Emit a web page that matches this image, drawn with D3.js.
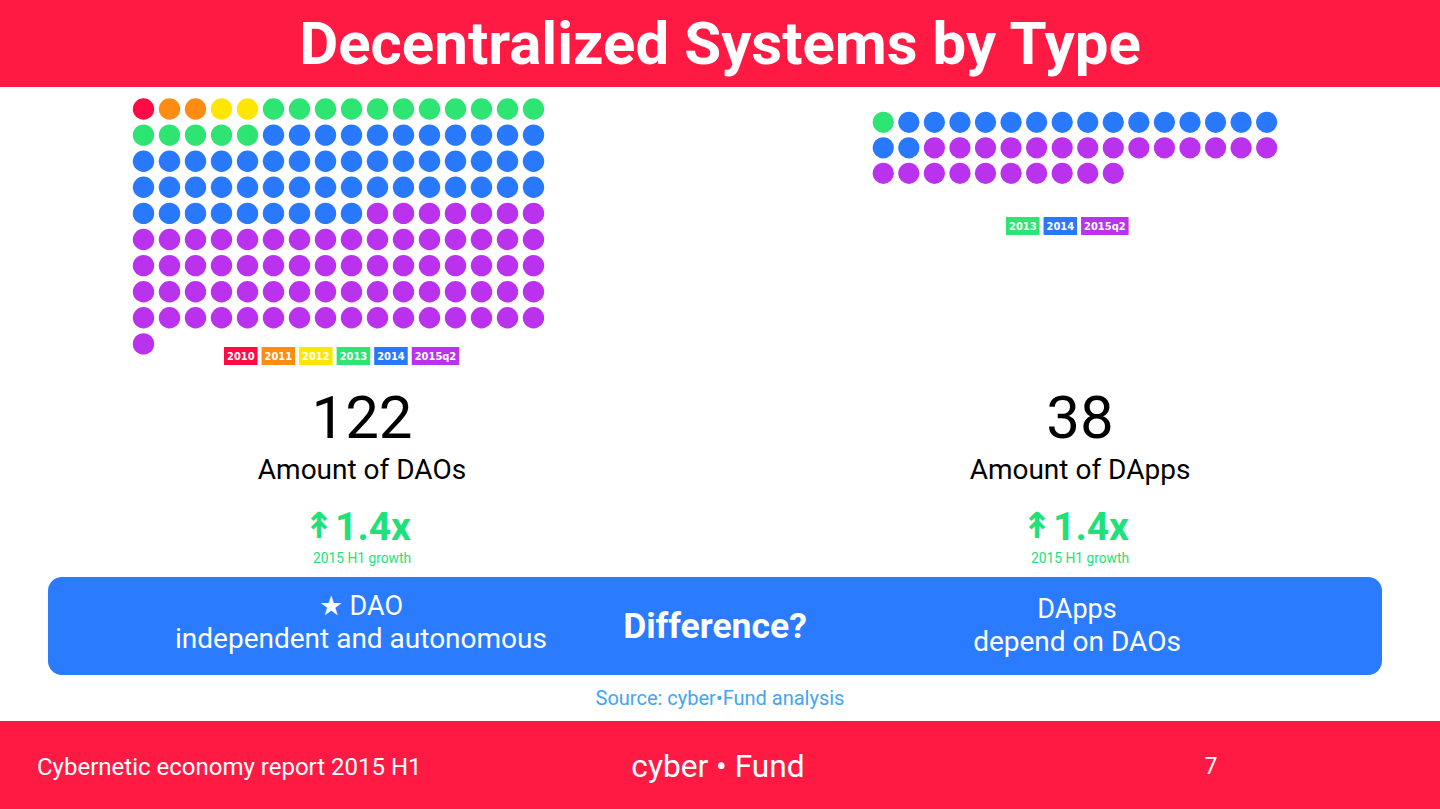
<!DOCTYPE html>
<html><head><meta charset="utf-8">
<script src="https://cdn.jsdelivr.net/npm/d3@7/dist/d3.min.js"></script>
<style>
html,body{margin:0;padding:0;background:#fff;}
svg{display:block;font-family:Roboto,"Noto Sans",sans-serif;}
</style></head>
<body>
<svg id="c" width="1440" height="809"></svg>
<script>
// ---- data ----
const years = ["2010","2011","2012","2013","2014","2015q2"];
const yearColors = ["#ff0a45","#ff8c12","#ffe600","#2ee573","#2979ff","#bb32ee"];
const daoCounts = [1,2,2,16,52,72];
const dappYears = ["2013","2014","2015q2"];
const dappCounts = [1,17,24];
const totals = [122, 38];
const totalLabels = ["Amount of DAOs","Amount of DApps"];
const growth = ["1.4x","1.4x"];
const growthLabel = "2015 H1 growth";
const title = "Decentralized Systems by Type";
const boxLeft = ["★ DAO","independent and autonomous"];
const boxMid = "Difference?";
const boxRight = ["DApps","depend on DAOs"];
const source = "Source: cyber•Fund analysis";
const footerLeft = "Cybernetic economy report 2015 H1";
const footerMid = "cyber • Fund";
const pageNo = "7";

const svg = d3.select("#c");
const RED = "#ff1a44", BLUE = "#2b7bff", GREEN = "#1de27a";
const color = d3.scaleOrdinal().domain(years).range(yearColors);

// header
svg.append("rect").attr("x",0).attr("y",0).attr("width",1440).attr("height",87).attr("fill",RED);
svg.append("text").attr("x",720).attr("y",64).attr("text-anchor","middle")
  .attr("fill","#fff").attr("font-weight",700).attr("font-size",60).text(title);

// waffle helper
function waffle(yrs, counts, opt){
  const cols = 16;
  const items = [];
  yrs.forEach((y,i)=>{ for(let k=0;k<counts[i];k++) items.push(y); });
  const x = d3.scaleLinear().domain([0,cols-1]).range([opt.x0, opt.x0+opt.step*(cols-1)]);
  const yS = d3.scaleLinear().domain([0,1]).range([opt.y0, opt.y0+opt.stepY]);
  const g = svg.append("g");
  g.selectAll("circle").data(items).join("circle")
    .attr("cx",(d,i)=>x(i%cols)).attr("cy",(d,i)=>yS(Math.floor(i/cols)))
    .attr("r",opt.r).attr("fill",d=>color(d));
  // legend
  const lg = svg.append("g");
  let cx = opt.lx;
  yrs.forEach(y=>{
    const t = lg.append("text").attr("y",opt.ly+opt.lh/2+4.2).attr("fill","#fff")
      .attr("font-family","'DejaVu Sans Condensed','DejaVu Sans',sans-serif")
      .attr("font-stretch","condensed").attr("font-weight",700).attr("font-size",11).text(y);
    const w = t.node().getComputedTextLength()+6;
    lg.insert("rect","text").attr("x",cx).attr("y",opt.ly).attr("width",w).attr("height",opt.lh).attr("fill",color(y));
    t.attr("x",cx+w/2).attr("text-anchor","middle");
    cx += w+4;
  });
}
waffle(years, daoCounts, {x0:143.5, step:26, y0:109, stepY:26.1, r:10.7, lx:224, ly:347, lh:18});
waffle(dappYears, dappCounts, {x0:883.3, step:25.56, y0:122.3, stepY:25.5, r:10.6, lx:1006, ly:217, lh:18});

// stats
const centers = [362, 1080];
centers.forEach((cx,i)=>{
  svg.append("text").attr("x",cx).attr("y",438).attr("text-anchor","middle")
    .attr("font-size",60).attr("fill","#000").text(totals[i]);
  svg.append("text").attr("x",cx).attr("y",479).attr("text-anchor","middle")
    .attr("font-size",28).attr("fill","#000").text(totalLabels[i]);
  svg.append("text").attr("x",cx-43).attr("y",538).attr("text-anchor","middle")
    .attr("font-family","'DejaVu Sans',sans-serif").attr("font-weight",700)
    .attr("font-size",36).attr("fill",GREEN).text("↟");
  svg.append("text").attr("x",cx+11).attr("y",540).attr("text-anchor","middle")
    .attr("font-weight",700).attr("font-size",39).attr("fill",GREEN).text(growth[i]);
  svg.append("text").attr("x",cx).attr("y",563).attr("text-anchor","middle")
    .attr("font-size",13.8).attr("fill",GREEN).text(growthLabel);
});

// blue box
svg.append("rect").attr("x",48).attr("y",577).attr("width",1334).attr("height",98).attr("rx",14).attr("fill",BLUE);
svg.append("text").attr("x",361).attr("y",615).attr("text-anchor","middle").attr("fill","#fff").attr("font-size",27).text(boxLeft[0]);
svg.append("text").attr("x",361).attr("y",648).attr("text-anchor","middle").attr("fill","#fff").attr("font-size",28).text(boxLeft[1]);
svg.append("text").attr("x",715).attr("y",638).attr("text-anchor","middle").attr("fill","#fff").attr("font-weight",700).attr("font-size",35.5).text(boxMid);
svg.append("text").attr("x",1077).attr("y",618).attr("text-anchor","middle").attr("fill","#fff").attr("font-size",27).text(boxRight[0]);
svg.append("text").attr("x",1077).attr("y",651).attr("text-anchor","middle").attr("fill","#fff").attr("font-size",28).text(boxRight[1]);

svg.append("text").attr("x",720).attr("y",705).attr("text-anchor","middle").attr("fill","#42a5f5").attr("font-size",20).text(source);

// footer
svg.append("rect").attr("x",0).attr("y",721).attr("width",1440).attr("height",88).attr("fill",RED);
svg.append("text").attr("x",37).attr("y",775).attr("fill","#fff").attr("font-size",24).text(footerLeft);
svg.append("text").attr("x",718).attr("y",777).attr("text-anchor","middle").attr("fill","#fff").attr("font-size",31.7).text(footerMid);
svg.append("text").attr("x",1211).attr("y",774).attr("text-anchor","middle").attr("fill","#fff").attr("font-size",23).text(pageNo);
</script>
</body></html>
